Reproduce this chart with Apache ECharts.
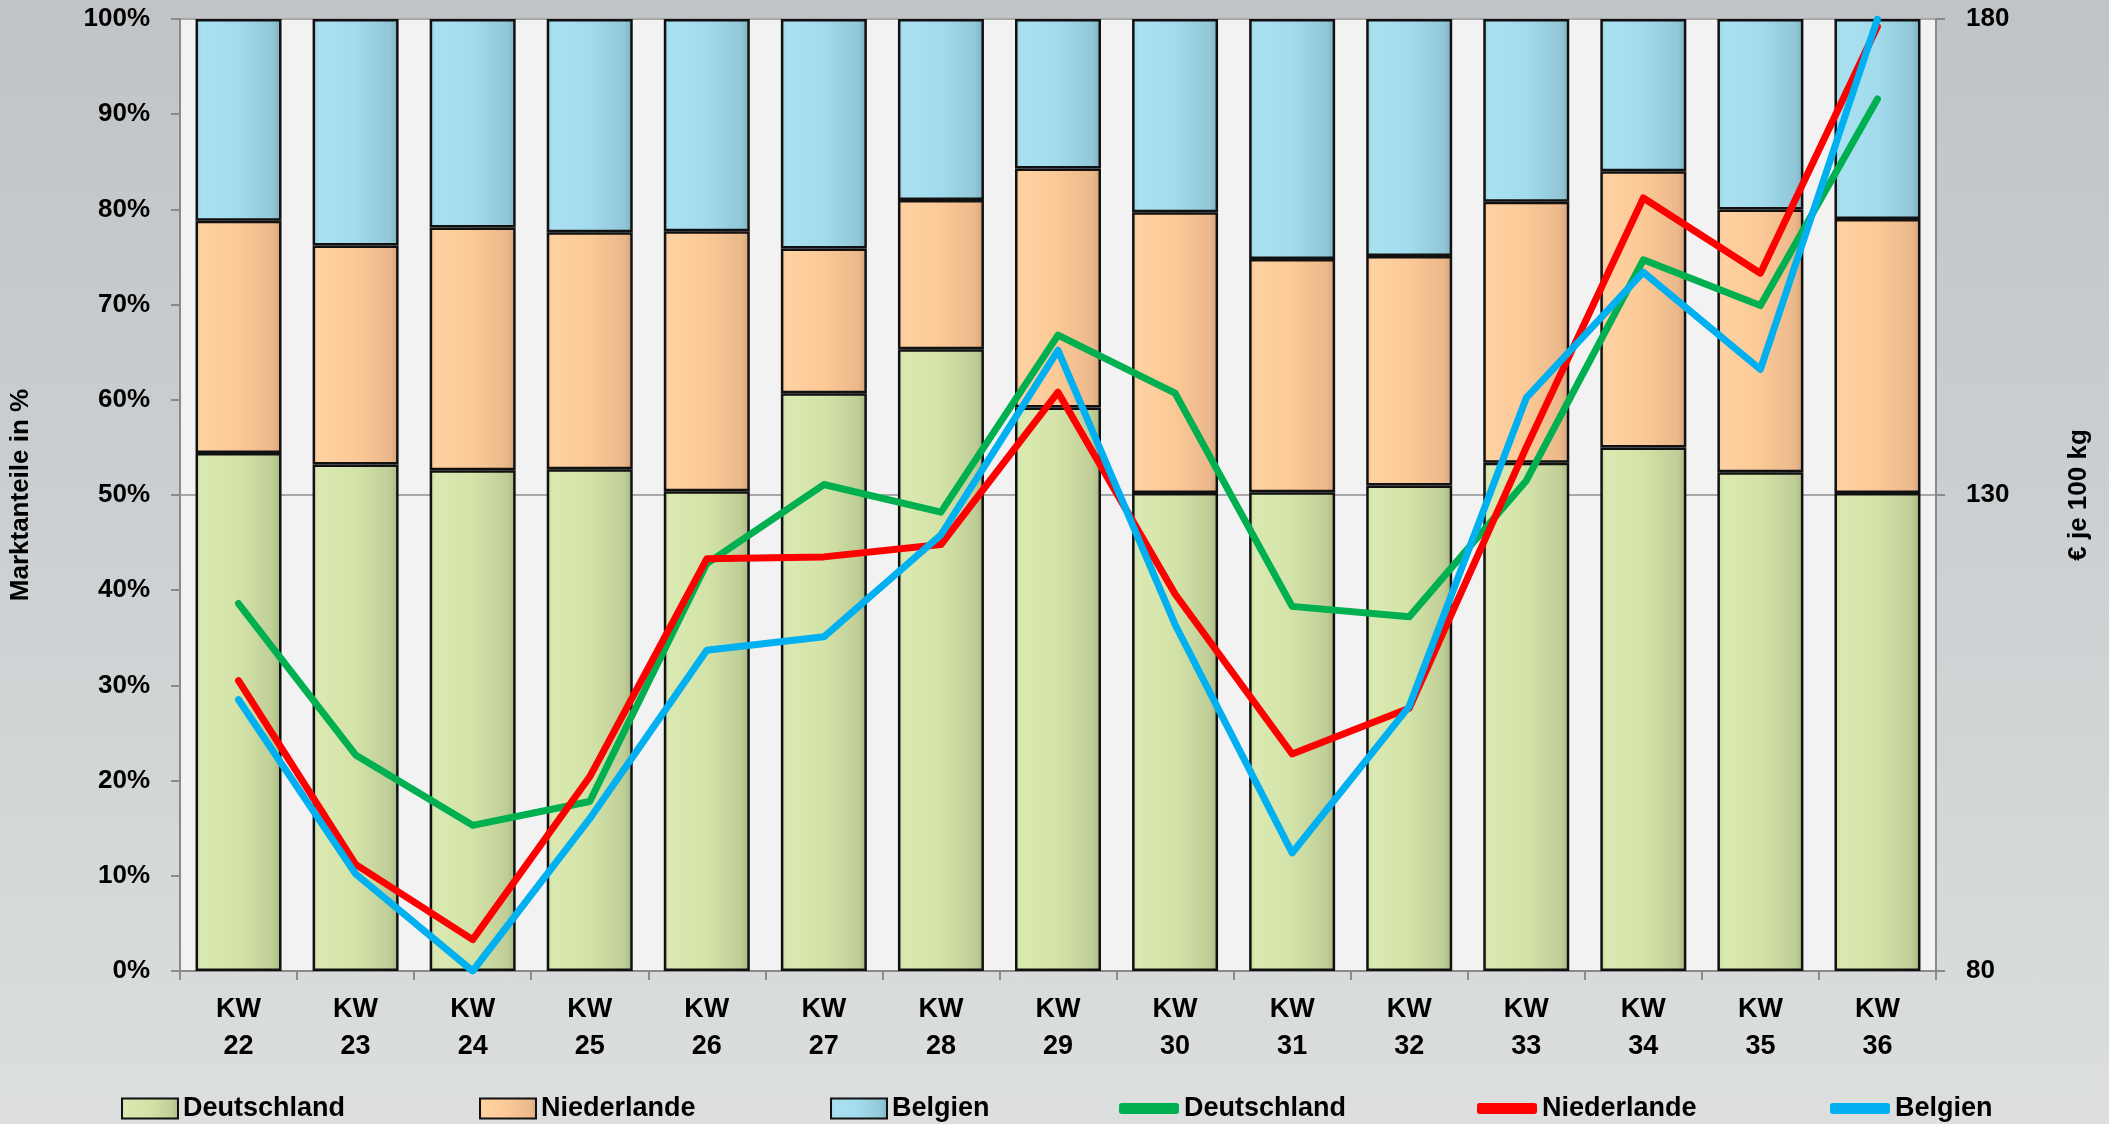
<!DOCTYPE html>
<html>
<head>
<meta charset="utf-8">
<script src="https://cdn.jsdelivr.net/npm/echarts@6/dist/echarts.min.js"></script>
<style>
  html, body { margin: 0; padding: 0; width: 2109px; height: 1124px; overflow: hidden;
    background: linear-gradient(180deg, #c1c4c7 0%, #cccfd1 45%, #dcdfde 100%); }
  #chart { width: 2109px; height: 1124px; }
</style>
</head>
<body>
<div id="chart"></div>
<script>
// ---- data ----
const weeks = ['KW 22','KW 23','KW 24','KW 25','KW 26','KW 27','KW 28','KW 29','KW 30','KW 31','KW 32','KW 33','KW 34','KW 35','KW 36'];
const shareDeutschland = [54.4, 53.2, 52.6, 52.7, 50.4, 60.7, 65.3, 59.2, 50.2, 50.3, 51.0, 53.4, 55.0, 52.4, 50.2];
const shareNiederlande = [24.4, 23.0, 25.5, 24.9, 27.3, 15.2, 15.7, 25.1, 29.5, 24.5, 24.1, 27.4, 29.0, 27.6, 28.8];
const shareBelgien     = [21.2, 23.8, 21.9, 22.4, 22.3, 24.1, 19.0, 15.7, 20.3, 25.2, 24.9, 19.2, 16.0, 20.0, 21.0];
const priceDeutschland = [118.6, 102.7, 95.3, 97.8, 122.8, 131.1, 128.2, 146.8, 140.7, 118.3, 117.2, 131.5, 154.7, 149.9, 171.6];
const priceNiederlande = [110.5, 91.2, 83.3, 100.4, 123.3, 123.5, 124.8, 140.8, 119.6, 102.8, 107.6, 135.0, 161.2, 153.3, 179.2];
const priceBelgien     = [108.5, 90.2, 80.0, 96.0, 113.7, 115.1, 125.8, 145.2, 116.4, 92.4, 107.8, 140.2, 153.4, 143.2, 180.0];
const leftTicks = { min: 0, max: 100, interval: 10 };
const rightTicks = { min: 80, max: 180, interval: 50 };
const countries = ['Deutschland', 'Niederlande', 'Belgien'];
const priceSuffix = ' Preis';

// ---- styling ----
const FONT = '"Liberation Sans", Arial, sans-serif';
function hGrad(stops) {
  return new echarts.graphic.LinearGradient(0, 0, 1, 0, stops.map((c, i) => ({ offset: [0, 0.07, 0.5, 0.9, 1][i], color: c })));
}
const barFills = [
  hGrad(['#c9d99f', '#d9e9b1', '#d3e3a8', '#bfce97', '#a8b682']),
  hGrad(['#f3c192', '#ffd2a1', '#fbc996', '#ebb88b', '#d4a27a']),
  hGrad(['#98cfe0', '#a9e1f1', '#a2dbec', '#91c7d7', '#7eb0c0'])
];
const lineColors = ['#00b050', '#ff0000', '#00b0f0'];
const shares = [shareDeutschland, shareNiederlande, shareBelgien];
const prices = [priceDeutschland, priceNiederlande, priceBelgien];

const series = [];
countries.forEach((c, i) => {
  series.push({
    name: c, type: 'bar', stack: 'share', yAxisIndex: 0,
    data: shares[i], barWidth: 86,
    itemStyle: { color: barFills[i], borderColor: '#111', borderWidth: 2.5 },
    emphasis: { disabled: true }
  });
});
countries.forEach((c, i) => {
  series.push({
    name: c + priceSuffix, type: 'line', yAxisIndex: 1,
    data: prices[i], symbol: 'none', z: 5,
    lineStyle: { color: lineColors[i], width: 7, cap: 'round', join: 'round' },
    itemStyle: { color: lineColors[i] },
    emphasis: { disabled: true }
  });
});

const legendLefts = [116, 474, 825, 1114, 1472, 1825];
const legends = [];
countries.forEach((c, i) => {
  legends.push({
    left: legendLefts[i], top: 1090, data: [c], icon: 'rect',
    itemWidth: 56, itemHeight: 20, selectedMode: false,
    itemStyle: { borderColor: '#111', borderWidth: 2 },
    textStyle: { fontFamily: FONT, fontWeight: 'bold', fontSize: 27, color: '#000' }
  });
});
countries.forEach((c, i) => {
  legends.push({
    left: legendLefts[3 + i], top: 1090, data: [c + priceSuffix], icon: 'roundRect',
    itemWidth: 60, itemHeight: 11, selectedMode: false,
    itemStyle: { color: lineColors[i], borderWidth: 0 },
    formatter: n => n.replace(priceSuffix, ''),
    textStyle: { fontFamily: FONT, fontWeight: 'bold', fontSize: 27, color: '#000' }
  });
});

const axisLabelStyle = { fontFamily: FONT, fontWeight: 'bold', fontSize: 26, color: '#000' };
const axisLineGrey = { show: true, lineStyle: { color: '#8a8a8a', width: 2 } };

const option = {
  animation: false,
  backgroundColor: 'transparent',
  grid: { left: 176, right: 173, top: 19, bottom: 153, show: true, backgroundColor: '#f2f2f3', borderWidth: 0 },
  legend: legends,
  xAxis: {
    type: 'category', data: weeks,
    axisLine: axisLineGrey,
    axisTick: { show: true, interval: 0, length: 9, lineStyle: { color: '#8a8a8a', width: 2 } },
    axisLabel: { ...axisLabelStyle, fontSize: 27, lineHeight: 37, margin: 20, interval: 0,
      formatter: v => v.replace(' ', '\n') },
    splitLine: { show: false }
  },
  yAxis: [
    {
      type: 'value', position: 'left', min: leftTicks.min, max: leftTicks.max, interval: leftTicks.interval,
      name: 'Marktanteile in %', nameLocation: 'middle', nameGap: 146, nameRotate: 90,
      nameTextStyle: { fontFamily: FONT, fontWeight: 'bold', fontSize: 26, color: '#000' },
      axisLine: axisLineGrey,
      axisTick: { show: true, length: 9, lineStyle: { color: '#8a8a8a', width: 2 } },
      axisLabel: { ...axisLabelStyle, margin: 30, formatter: v => v + '%' },
      splitLine: { show: false }
    },
    {
      type: 'value', position: 'right', min: rightTicks.min, max: rightTicks.max, interval: rightTicks.interval,
      name: '€ je 100 kg', nameLocation: 'middle', nameGap: 130, nameRotate: 90,
      nameTextStyle: { fontFamily: FONT, fontWeight: 'bold', fontSize: 26, color: '#000' },
      axisLine: axisLineGrey,
      axisTick: { show: true, length: 9, lineStyle: { color: '#8a8a8a', width: 2 } },
      axisLabel: { ...axisLabelStyle, margin: 30 },
      splitLine: { show: true, lineStyle: { color: '#a8a8a8', width: 2 } }
    }
  ],
  series: series
};

const chart = echarts.init(document.getElementById('chart'), null, { renderer: 'canvas' });
chart.setOption(option);
</script>
</body>
</html>
